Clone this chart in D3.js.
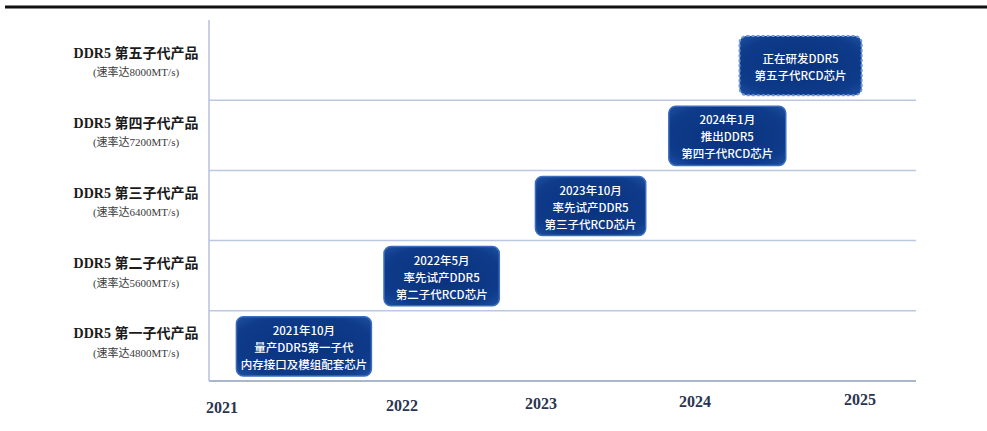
<!DOCTYPE html>
<html>
<head>
<meta charset="utf-8">
<script src="https://cdn.jsdelivr.net/npm/d3@7"></script>
<style>
  html, body { margin: 0; padding: 0; background: #fff; }
  svg { display: block; }
</style>
</head>
<body>
<svg id="chart" width="987" height="431"></svg>
<script>
// Product generations, top row first
const generations = ["第五子代", "第四子代", "第三子代", "第二子代", "第一子代"];
const genTitles = ["DDR5 第五子代产品", "DDR5 第四子代产品", "DDR5 第三子代产品", "DDR5 第二子代产品", "DDR5 第一子代产品"];
const genSpeeds = ["(速率达8000MT/s)", "(速率达7200MT/s)", "(速率达6400MT/s)", "(速率达5600MT/s)", "(速率达4800MT/s)"];

// Timeline years shown along the bottom
const years = [2021, 2022, 2023, 2024, 2025];

// Milestones: generation row, span on the timeline (fractional years), caption lines
const eventGen = ["第一子代", "第二子代", "第三子代", "第四子代", "第五子代"];
const eventStart = [2021.08, 2021.90, 2022.96, 2023.83, 2024.27];
const eventEnd = [2021.83, 2022.70, 2023.68, 2024.55, 2025.01];
const eventText = [
  ["2021年10月", "量产DDR5第一子代", "内存接口及模组配套芯片"],
  ["2022年5月", "率先试产DDR5", "第二子代RCD芯片"],
  ["2023年10月", "率先试产DDR5", "第三子代RCD芯片"],
  ["2024年1月", "推出DDR5", "第四子代RCD芯片"],
  ["正在研发DDR5", "第五子代RCD芯片"]
];
const eventPlanned = [false, false, false, false, true];

const svg = d3.select("#chart");

// Year axis: piecewise-linear so each year sits under its column
const x = d3.scaleLinear().domain(years).range([222, 402, 541, 695, 860]);
const y = d3.scaleBand().domain(generations).range([30, 381]);

const plotLeft = 209, plotRight = 916;

// Top rule
svg.append("line")
  .attr("x1", 5).attr("x2", 987).attr("y1", 7).attr("y2", 7)
  .attr("stroke", "#111").attr("stroke-width", 3);

// Row separators
svg.append("g").selectAll("line")
  .data(generations)
  .join("line")
  .attr("x1", plotLeft).attr("x2", plotRight)
  .attr("y1", d => y(d) + y.bandwidth())
  .attr("y2", d => y(d) + y.bandwidth())
  .attr("stroke", (d, i) => i === generations.length - 1 ? "#a9b6cc" : "#bcc8e2")
  .attr("stroke-width", (d, i) => i === generations.length - 1 ? 2 : 1.5);

// Vertical axis
svg.append("line")
  .attr("x1", plotLeft).attr("x2", plotLeft)
  .attr("y1", 20).attr("y2", y.range()[1])
  .attr("stroke", "#b5bfe4").attr("stroke-width", 1.5);

// Row labels
const labels = svg.append("g").selectAll("g")
  .data(generations)
  .join("g")
  .attr("transform", d => `translate(136,${y(d)})`);

labels.append("text")
  .attr("y", 23)
  .attr("text-anchor", "middle")
  .attr("dominant-baseline", "central")
  .attr("font-family", "'Liberation Serif', 'Noto Sans CJK SC', serif")
  .attr("font-weight", "bold")
  .attr("font-size", 14)
  .attr("fill", "#1b1b1b")
  .text((d, i) => genTitles[i]);

labels.append("text")
  .attr("y", 42)
  .attr("text-anchor", "middle")
  .attr("dominant-baseline", "central")
  .attr("font-family", "'Liberation Serif', 'Noto Sans CJK SC', serif")
  .attr("font-size", 11)
  .attr("fill", "#3a3a3a")
  .text((d, i) => genSpeeds[i]);

// Year labels
svg.append("g").selectAll("text")
  .data(years)
  .join("text")
  .attr("x", d => x(d))
  .attr("y", (d, i) => 407 - i * 1.9)
  .attr("text-anchor", "middle")
  .attr("dominant-baseline", "central")
  .attr("font-family", "'Liberation Serif', serif")
  .attr("font-weight", "bold")
  .attr("font-size", 16)
  .attr("fill", "#2a3450")
  .text(d => d);

// Box fill
const defs = svg.append("defs");
const grad = defs.append("radialGradient").attr("id", "boxFill")
  .attr("cx", "50%").attr("cy", "50%").attr("r", "75%");
grad.append("stop").attr("offset", "0%").attr("stop-color", "#09327d");
grad.append("stop").attr("offset", "70%").attr("stop-color", "#0e3b8a");
grad.append("stop").attr("offset", "100%").attr("stop-color", "#2256a6");

// Milestone boxes
const pad = 6;
const boxes = svg.append("g").selectAll("g")
  .data(eventGen.map((g, i) => ({ g, i })))
  .join("g");

boxes.append("rect")
  .attr("x", d => x(eventStart[d.i]))
  .attr("y", d => y(d.g) + pad)
  .attr("width", d => x(eventEnd[d.i]) - x(eventStart[d.i]))
  .attr("height", y.bandwidth() - pad * 2 + 1)
  .attr("rx", 7).attr("ry", 7)
  .attr("fill", "url(#boxFill)")
  .attr("stroke", d => eventPlanned[d.i] ? "#6d98dc" : "#3d6cbf")
  .attr("stroke-width", d => eventPlanned[d.i] ? 2 : 1.5)
  .attr("stroke-dasharray", d => eventPlanned[d.i] ? "3,2" : null);

boxes.each(function (d) {
  const lines = eventText[d.i];
  const cx = (x(eventStart[d.i]) + x(eventEnd[d.i])) / 2;
  const cy = y(d.g) + y.bandwidth() / 2 + 1;
  const lh = 17;
  d3.select(this).selectAll("text")
    .data(lines)
    .join("text")
    .attr("x", cx)
    .attr("y", (t, k) => cy + (k - (lines.length - 1) / 2) * lh)
    .attr("text-anchor", "middle")
    .attr("dominant-baseline", "central")
    .attr("font-family", "'Noto Sans CJK SC', 'Noto Sans', sans-serif")
    .attr("font-weight", 500)
    .attr("font-size", 11.5)
    .attr("fill", "#ffffff")
    .text(t => t);
});
</script>
</body>
</html>
